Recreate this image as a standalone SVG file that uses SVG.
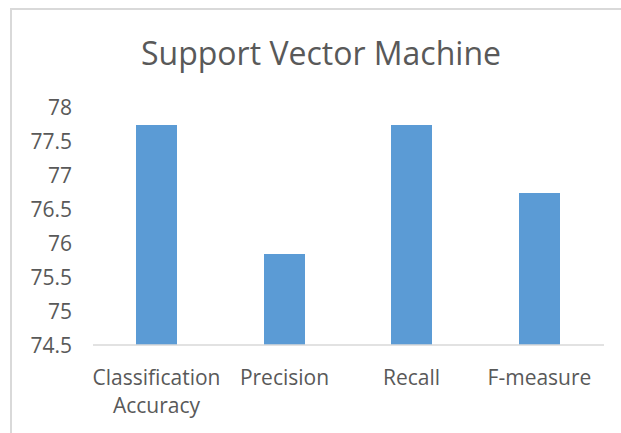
<svg xmlns="http://www.w3.org/2000/svg" width="621" height="433" viewBox="0 0 621 433">
<style>
text{font-family:"Open Sans","Liberation Sans",sans-serif;fill:#595959}
.y{font-size:21px;text-anchor:end}
.x{font-size:21px;text-anchor:middle}
.bar{fill:#5b9bd5}
</style>
<rect x="0" y="0" width="621" height="433" fill="#fff"/>
<path d="M11 440 V9 H630" fill="none" stroke="#d9d9d9" stroke-width="2"/>
<text x="321" y="65" font-size="32" text-anchor="middle">Support Vector Machine</text>
<g id="yaxis">
<text class="y" x="72" y="115">78</text>
<text class="y" x="72" y="149">77.5</text>
<text class="y" x="72" y="183">77</text>
<text class="y" x="72" y="217">76.5</text>
<text class="y" x="72" y="251">76</text>
<text class="y" x="72" y="285">75.5</text>
<text class="y" x="72" y="319">75</text>
<text class="y" x="72" y="353">74.5</text>
</g>
<g id="bars">
<rect class="bar" x="136" y="125" width="41" height="220"/>
<rect class="bar" x="264" y="254" width="41" height="91"/>
<rect class="bar" x="391" y="125" width="41" height="220"/>
<rect class="bar" x="519" y="193" width="41" height="152"/>
</g>
<line x1="93" y1="345" x2="604" y2="345" stroke="#d9d9d9" stroke-width="1.5"/>
<g id="xaxis">
<text class="x" x="156.5" y="385">Classification</text>
<text class="x" x="156.5" y="413">Accuracy</text>
<text class="x" x="284.5" y="385">Precision</text>
<text class="x" x="411.5" y="385">Recall</text>
<text class="x" x="539.5" y="385">F-measure</text>
</g>
</svg>
